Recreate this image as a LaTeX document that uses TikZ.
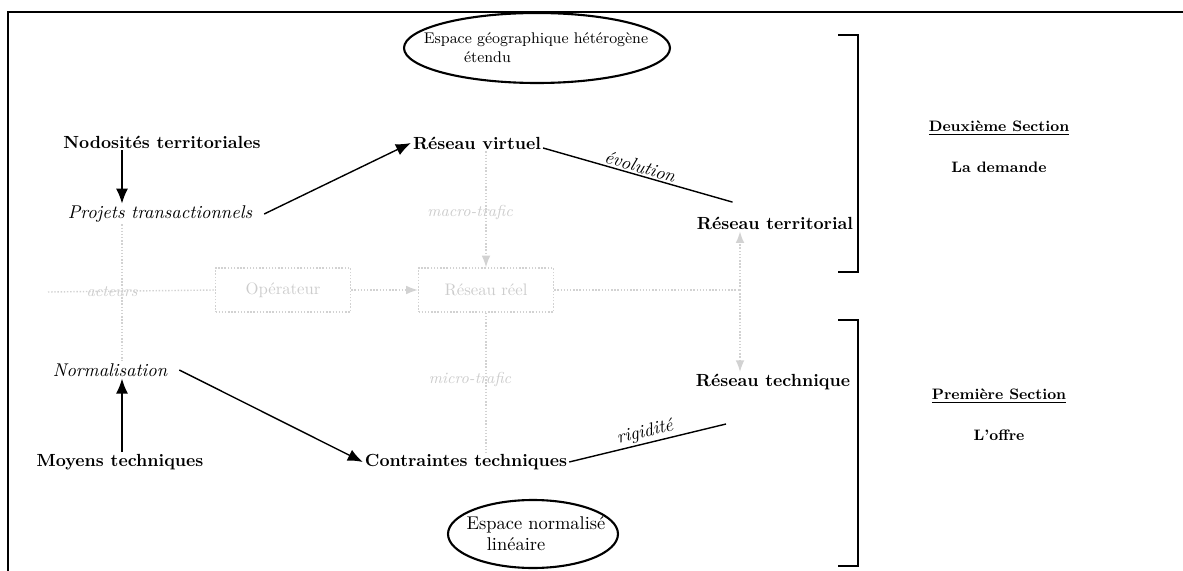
\documentclass[tikz,border=0pt]{standalone}
\usepackage{tikz}
\usetikzlibrary{shapes.geometric,arrows.meta,calc}
\tikzset{
  titre/.style={font=\bfseries\fontsize{10}{12}\selectfont, inner sep=1pt},
  penche/.style={font=\itshape\fontsize{10.5}{12}\selectfont, inner sep=1pt},
  espace/.style={inner sep=0pt, align=left, font=\fontsize{10.5}{12}\selectfont},
  section/.style={font=\bfseries\fontsize{8.6}{11}\selectfont, inner sep=1pt},
  pale/.style={gray!35, densely dotted, thick},
  palebox/.style={draw=gray!35, densely dotted, thick, minimum width=2.7cm, minimum height=0.88cm, text=gray!40, font=\fontsize{9.5}{11}\selectfont},
  paletext/.style={text=gray!40, font=\itshape\fontsize{9}{10}\selectfont, inner sep=1pt},
  fleche/.style={-{Latex[length=3mm,width=2.4mm]}, thick}
}
\newcommand{\crochet}[2]{\draw[very thick] (838,#1) -- (858,#1) -- (858,#2) -- (838,#2);}
\begin{document}
\begin{tikzpicture}[x=0.02cm,y=-0.02cm]
    \useasboundingbox (0,0) rectangle (1183,571);
    % cadre
    \draw[thick] (8,571) -- (8,12) -- (1183,12);
    % espaces
    \node[espace, font=\fontsize{8.8}{11}\selectfont] (geo) at (536,48) {Espace géographique hétérogène\\ \hspace*{2.6em}étendu};
    \draw[very thick] (537,48) ellipse [x radius=2.66cm, y radius=0.7cm];
    \node[espace] (norme) at (536,534) {Espace normalisé\\ \hspace*{1.1em}linéaire};
    \draw[very thick] (533,534) ellipse [x radius=1.7cm, y radius=0.68cm];
    % sections
    \crochet{35}{272}
    \crochet{320}{566}
    \node[section] (sec2) at (999,128) {\underline{Deuxième Section}};
    \node[section] (dem) at (999,167) {La demande};
    \node[section] (sec1) at (999,396) {\underline{Première Section}};
    \node[section] (off) at (999,435) {L'offre};
    % noeuds
    \node[titre] (nodo) at (162,142) {Nodosités territoriales};
    \node[penche] (proj) at (160,214) {Projets transactionnels};
    \node[titre] (virt) at (477,143) {Réseau virtuel};
    \node[titre] (terr) at (775,223) {Réseau territorial};
    \node[penche] (norm) at (110,370) {Normalisation};
    \node[titre] (moy) at (120,462) {Moyens techniques};
    \node[titre] (cont) at (466,462) {Contraintes techniques};
    \node[titre] (tech) at (773,382) {Réseau technique};
    % partie effacee
    \node[palebox] (oper) at (283,290) {Opérateur};
    \node[palebox] (reel) at (486,290) {Réseau réel};
    \node[paletext] (acte) at (112,292) {acteurs};
    \node[paletext] (macro) at (470,213) {macro-trafic};
    \node[paletext] (micro) at (470,380) {micro-trafic};
    \coordinate (jonc) at (740,290);
    \coordinate (gauche) at (48,292);
    \draw[pale] (proj.south -| 122,0) -- (norm.north -| 122,0);
    \draw[pale] (gauche) -- (oper.west);
    \draw[pale,-{Latex}] (oper.east) -- (reel.west);
    \draw[pale,-{Latex}] (virt.south -| reel.north) -- (reel.north);
    \draw[pale] (reel.south) -- (cont.north -| reel.south);
    \draw[pale] (reel.east) -- (jonc);
    \draw[pale,-{Latex}] (jonc) -- (terr.south -| jonc);
    \draw[pale,-{Latex}] (jonc) -- (tech.north -| jonc);
    % fleches
    \draw[fleche] (nodo.south -| 122,0) -- (proj.north -| 122,0);
    \draw[fleche] (moy.north -| 122,0) -- (norm.south -| 122,0);
    \draw[fleche] ([xshift=2mm]proj.east) -- (virt.west);
    \draw[fleche] ([xshift=2mm]norm.east) -- (cont.west);
    \draw[thick] ([yshift=-1mm]virt.east) -- node[sloped, above, penche, font=\itshape\fontsize{10.5}{12}\selectfont] {évolution} ([xshift=-0.85cm,yshift=0.25cm]terr.north);
    \coordinate (rigi) at (726,424);
    \draw[thick] (cont.east) -- node[sloped, above, penche, font=\itshape\fontsize{10.5}{12}\selectfont] {rigidité} (rigi);
\end{tikzpicture}
\end{document}
